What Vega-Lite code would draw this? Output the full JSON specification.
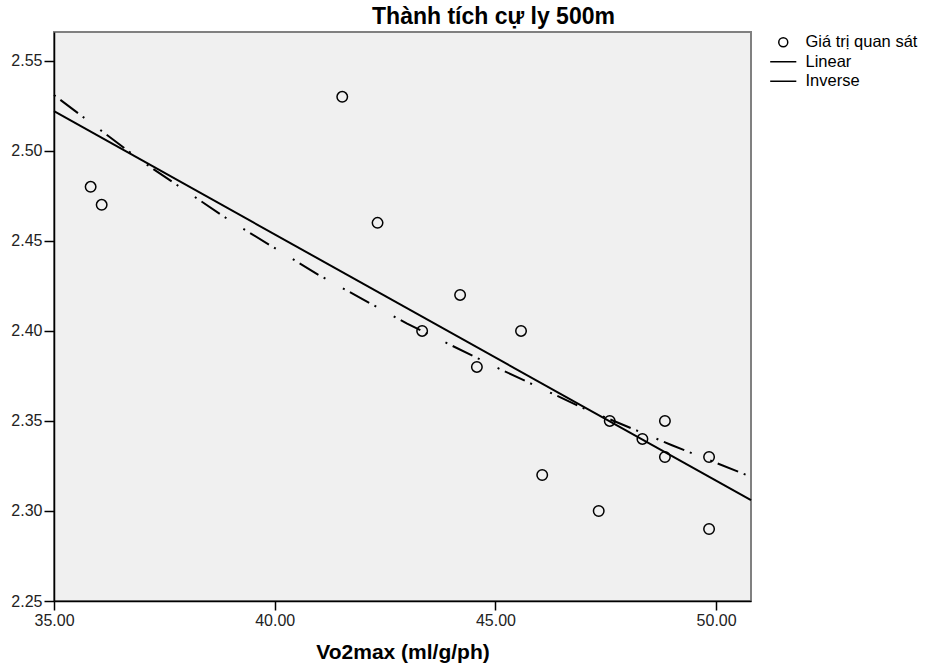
{
  "$schema": "https://vega.github.io/schema/vega-lite/v6.json",
  "width": 697,
  "height": 569,
  "autosize": "none",
  "padding": {"left": 54, "top": 32, "right": 183, "bottom": 65},
  "background": "white",
  "title": {"text": "Thành tích cự ly 500m", "fontSize": 23, "font": "Liberation Sans", "fontWeight": "bold", "color": "#000", "anchor": "middle", "dx": 91, "offset": 3},
  "config": {
    "view": {"fill": "#F0F0F0", "stroke": "#808080", "strokeWidth": 2},
    "font": "Liberation Sans"
  },
  "data": {
    "values": [
      {"series": "Giá trị quan sát", "vo2": 35.83, "t": 2.48},
      {"series": "Giá trị quan sát", "vo2": 36.08, "t": 2.47},
      {"series": "Giá trị quan sát", "vo2": 41.53, "t": 2.53},
      {"series": "Giá trị quan sát", "vo2": 42.33, "t": 2.46},
      {"series": "Giá trị quan sát", "vo2": 43.34, "t": 2.40},
      {"series": "Giá trị quan sát", "vo2": 44.20, "t": 2.42},
      {"series": "Giá trị quan sát", "vo2": 44.58, "t": 2.38},
      {"series": "Giá trị quan sát", "vo2": 45.58, "t": 2.40},
      {"series": "Giá trị quan sát", "vo2": 46.06, "t": 2.32},
      {"series": "Giá trị quan sát", "vo2": 47.34, "t": 2.30},
      {"series": "Giá trị quan sát", "vo2": 47.59, "t": 2.35},
      {"series": "Giá trị quan sát", "vo2": 48.33, "t": 2.34},
      {"series": "Giá trị quan sát", "vo2": 48.84, "t": 2.35},
      {"series": "Giá trị quan sát", "vo2": 48.84, "t": 2.33},
      {"series": "Giá trị quan sát", "vo2": 49.84, "t": 2.33},
      {"series": "Giá trị quan sát", "vo2": 49.84, "t": 2.29},
      {"series": "Linear", "vo2": 35.0, "t": 2.522},
      {"series": "Linear", "vo2": 50.79, "t": 2.306},
      {"series": "Inverse", "vo2": 35.0, "t": 2.531},
      {"series": "Inverse", "vo2": 37.0, "t": 2.494},
      {"series": "Inverse", "vo2": 39.0, "t": 2.461},
      {"series": "Inverse", "vo2": 41.0, "t": 2.431},
      {"series": "Inverse", "vo2": 43.0, "t": 2.404},
      {"series": "Inverse", "vo2": 45.0, "t": 2.380},
      {"series": "Inverse", "vo2": 47.0, "t": 2.357},
      {"series": "Inverse", "vo2": 49.0, "t": 2.3365},
      {"series": "Inverse", "vo2": 50.79, "t": 2.319}
    ]
  },
  "encoding": {
    "x": {
      "field": "vo2", "type": "quantitative",
      "scale": {"domain": [35, 50.79], "nice": false, "zero": false},
      "axis": {
        "title": "Vo2max (ml/g/ph)", "values": [35, 40, 45, 50], "format": ".2f",
        "grid": false, "domainColor": "#000", "domainWidth": 1.5,
        "tickColor": "#000", "tickSize": 9, "tickWidth": 1.5,
        "labelFontSize": 16, "labelColor": "#222", "labelPadding": 2, "labelFlush": false, "labelOverlap": false,
        "titleFontSize": 21, "titleFontWeight": "bold", "titleColor": "#000", "titlePadding": 13
      }
    },
    "y": {
      "field": "t", "type": "quantitative",
      "scale": {"domain": [2.25, 2.566], "nice": false, "zero": false},
      "axis": {
        "title": null, "values": [2.25, 2.3, 2.35, 2.4, 2.45, 2.5, 2.55], "format": ".2f",
        "grid": false, "domainColor": "#000", "domainWidth": 1.5,
        "tickColor": "#000", "tickSize": 10, "tickWidth": 1.5,
        "labelFontSize": 16, "labelColor": "#222", "labelPadding": 2, "labelFlush": false, "labelOverlap": false
      }
    }
  },
  "layer": [
    {
      "transform": [{"filter": "datum.series === 'Giá trị quan sát'"}],
      "mark": {"type": "point", "filled": false, "color": "#000", "strokeWidth": 1.5, "size": 110, "opacity": 1},
      "encoding": {
        "shape": {
          "field": "series", "type": "nominal",
          "scale": {"domain": ["Giá trị quan sát", "Linear", "Inverse"], "range": ["circle", "M-2.9,0L2.9,0", "M-2.9,0L2.9,0"]},
          "legend": {
            "title": null, "orient": "none", "legendX": 721, "legendY": 2,
            "symbolSize": 81, "symbolStrokeWidth": 1.5, "symbolStrokeColor": "#000", "symbolFillColor": "transparent",
            "labelFontSize": 16.5, "labelColor": "#000", "labelOffset": 14, "rowPadding": 2.5, "padding": 0
          }
        }
      }
    },
    {
      "transform": [{"filter": "datum.series === 'Linear'"}],
      "mark": {"type": "line", "color": "#000", "strokeWidth": 2},
      "encoding": {}
    },
    {
      "transform": [{"filter": "datum.series === 'Inverse'"}],
      "mark": {"type": "line", "color": "#000", "strokeWidth": 2, "strokeDash": [2, 6, 22, 6, 2, 20]},
      "encoding": {}
    }
  ]
}
